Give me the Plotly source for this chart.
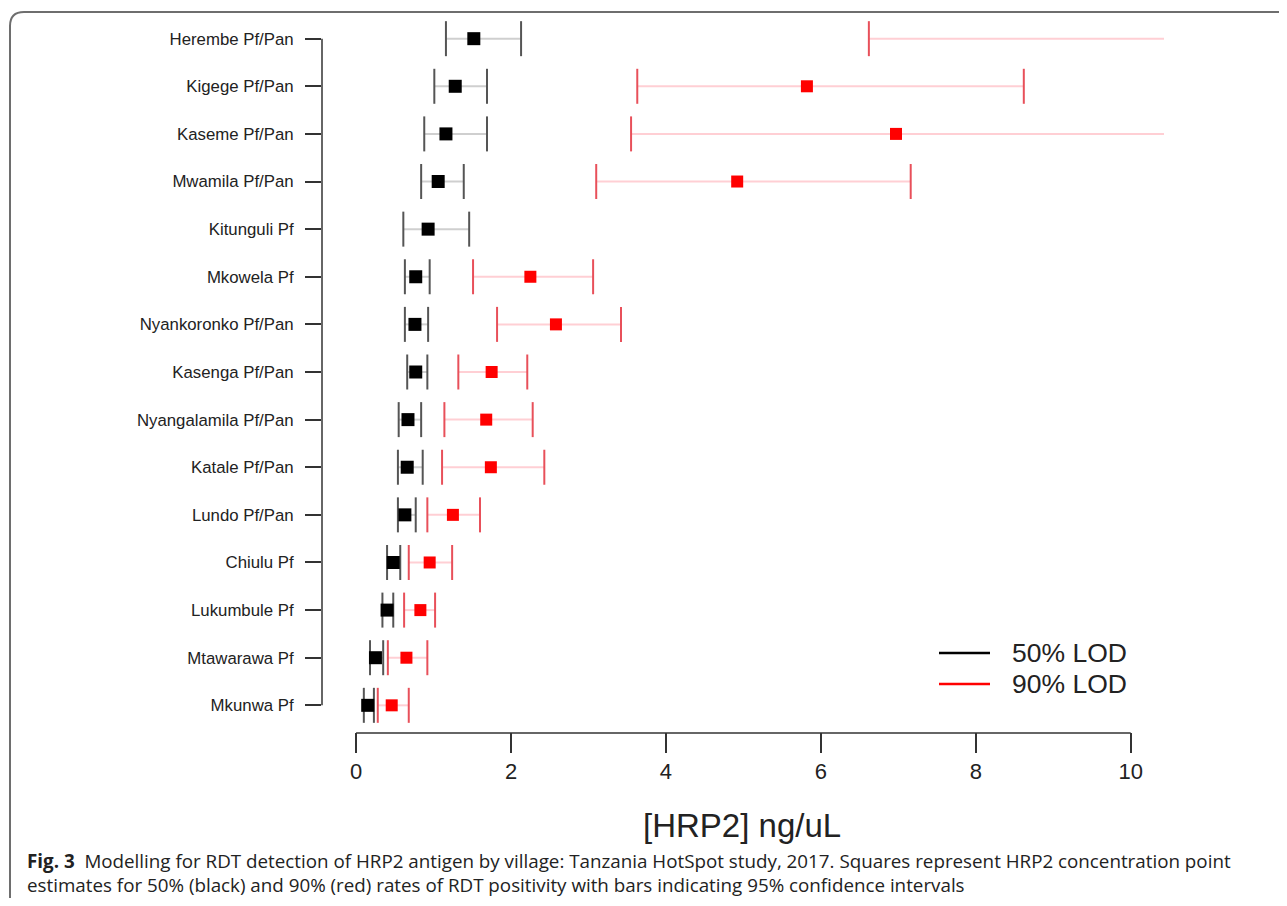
import plotly.graph_objects as go

W, H = 1287, 906
OFF = 8  # default page body margin
FW, FH = W - 2 * OFF, H - 2 * OFF

villages = ["Herembe Pf/Pan", "Kigege Pf/Pan", "Kaseme Pf/Pan", "Mwamila Pf/Pan", "Kitunguli Pf",
            "Mkowela Pf", "Nyankoronko Pf/Pan", "Kasenga Pf/Pan", "Nyangalamila Pf/Pan", "Katale Pf/Pan",
            "Lundo Pf/Pan", "Chiulu Pf", "Lukumbule Pf", "Mtawarawa Pf", "Mkunwa Pf"]

lod50_est = [1.52, 1.28, 1.16, 1.06, 0.93, 0.77, 0.76, 0.77, 0.67, 0.66, 0.63, 0.48, 0.40, 0.25, 0.15]
lod50_lo  = [1.16, 1.01, 0.88, 0.84, 0.61, 0.63, 0.63, 0.66, 0.55, 0.54, 0.54, 0.40, 0.34, 0.18, 0.10]
lod50_hi  = [2.13, 1.69, 1.69, 1.39, 1.46, 0.95, 0.93, 0.92, 0.84, 0.86, 0.77, 0.57, 0.48, 0.35, 0.23]

lod90_est = [None, 5.82, 6.97, 4.92, None, 2.25, 2.58, 1.75, 1.68, 1.74, 1.25, 0.95, 0.83, 0.65, 0.46]
lod90_lo  = [6.62, 3.63, 3.55, 3.10, None, 1.51, 1.82, 1.32, 1.14, 1.11, 0.92, 0.68, 0.62, 0.41, 0.28]
lod90_hi  = [12.0, 8.62, 12.0, 7.16, None, 3.06, 3.42, 2.21, 2.28, 2.43, 1.60, 1.24, 1.02, 0.92, 0.68]

x_ticks = [0, 2, 4, 6, 8, 10]
legend_labels = ["50% LOD", "90% LOD"]

caption_1 = ("<b>Fig. 3</b>  Modelling for RDT detection of HRP2 antigen by village: Tanzania HotSpot study, 2017. "
             "Squares represent HRP2 concentration point")
caption_2 = "estimates for 50% (black) and 90% (red) rates of RDT positivity with bars indicating 95% confidence intervals"


def px_x(p):
    return (p - OFF) / FW


def px_y(p):
    return 1 - (p - OFF) / FH


def segs(lo, hi, cats):
    xs, ys = [], []
    for a, b, c in zip(lo, hi, cats):
        if a is None or b is None:
            continue
        xs += [a, b, None]
        ys += [c, c, None]
    return xs, ys


def caps(vals, cats):
    xs, ys = [], []
    for v, c in zip(vals, cats):
        if v is None or v > 10.43:
            continue
        xs.append(v)
        ys.append(c)
    return xs, ys


fig = go.Figure()

series = [
    (lod50_lo, lod50_est, lod50_hi, "#cfcfcf", "#555555", "#000000", 13),
    (lod90_lo, lod90_est, lod90_hi, "#ffcfd4", "#e8505a", "#ff0000", 12),
]
for lo, est, hi, lcol, ccol, mcol, msz in series:
    sx, sy = segs(lo, hi, villages)
    fig.add_trace(go.Scatter(x=sx, y=sy, mode="lines", line=dict(color=lcol, width=2),
                             showlegend=False, hoverinfo="skip"))
    cx, cy = caps(lo + hi, villages + villages)
    fig.add_trace(go.Scatter(x=cx, y=cy, mode="markers",
                             marker=dict(symbol="line-ns", size=25, line=dict(color=ccol, width=2)),
                             showlegend=False, hoverinfo="skip"))
    fig.add_trace(go.Scatter(x=est, y=villages, mode="markers",
                             marker=dict(symbol="square", size=msz, color=mcol, line=dict(width=0)),
                             showlegend=False))

# plot region (page pixels): x 322..1164, y 12..732
fig.update_layout(
    width=FW, height=FH,
    margin=dict(l=0, r=0, t=0, b=0),
    paper_bgcolor="white", plot_bgcolor="white",
    font=dict(family="Liberation Sans, Arial, sans-serif", color="#222222"),
    xaxis=dict(domain=[px_x(322), px_x(1164)], range=[-0.44, 10.43],
               tickvals=x_ticks, ticktext=[str(t) for t in x_ticks],
               ticks="outside", ticklen=20, tickwidth=1.5, tickcolor="#333333",
               showgrid=False, zeroline=False, showline=False,
               tickfont=dict(size=22, color="#222222")),
    yaxis=dict(domain=[px_y(732), px_y(12)], type="category",
               categoryorder="array", categoryarray=villages,
               range=[14.56, -0.56],
               ticks="outside", ticklen=16, tickwidth=1.5, tickcolor="#333333",
               ticklabelstandoff=8,
               showgrid=False, zeroline=False, showline=False,
               tickfont=dict(size=16.8, color="#222222")),
)

# y axis line from first to last category
fig.add_shape(type="line", xref="paper", yref="y", x0=px_x(322), x1=px_x(322),
              y0=villages[0], y1=villages[-1], line=dict(color="#333333", width=1.5))
# x axis line from 0 to 10
fig.add_shape(type="line", xref="x", yref="paper", x0=x_ticks[0], x1=x_ticks[-1],
              y0=px_y(733), y1=px_y(733), line=dict(color="#333333", width=1.5))

# axis title
fig.add_annotation(text="[HRP2] ng/uL", xref="paper", yref="paper", x=px_x(742), y=px_y(825),
                   showarrow=False, font=dict(size=33, color="#222222"), xanchor="center", yanchor="middle")

# legend
for i, (lab, col) in enumerate(zip(legend_labels, ["#000000", "#ff0000"])):
    yy = 653 + i * 31
    fig.add_shape(type="line", xref="paper", yref="paper", x0=px_x(939), x1=px_x(990),
                  y0=px_y(yy), y1=px_y(yy), line=dict(color=col, width=2.5))
    fig.add_annotation(text=lab, xref="paper", yref="paper", x=px_x(1010), y=px_y(yy),
                       showarrow=False, xanchor="left", yanchor="middle",
                       font=dict(size=26.5, color="#222222"))

# outer rounded frame
r = 14
x0, y0, x1, y1 = 10, 12, 1310, 930
path = (f"M {px_x(x0)},{px_y(y1)} L {px_x(x0)},{px_y(y0 + r)} "
        f"Q {px_x(x0)},{px_y(y0)} {px_x(x0 + r)},{px_y(y0)} L {px_x(x1)},{px_y(y0)}")
fig.add_shape(type="path", xref="paper", yref="paper", path=path,
              line=dict(color="#6e6e6e", width=2))

# caption (single block, two lines)
fig.add_annotation(text=caption_1 + "<br>" + caption_2, xref="paper", yref="paper",
                   x=px_x(26), y=px_y(873), showarrow=False, xanchor="left", yanchor="middle",
                   align="left", borderpad=0,
                   font=dict(family="Open Sans, sans-serif", size=18.8, color="#222222"))

fig.write_html("out.html")
